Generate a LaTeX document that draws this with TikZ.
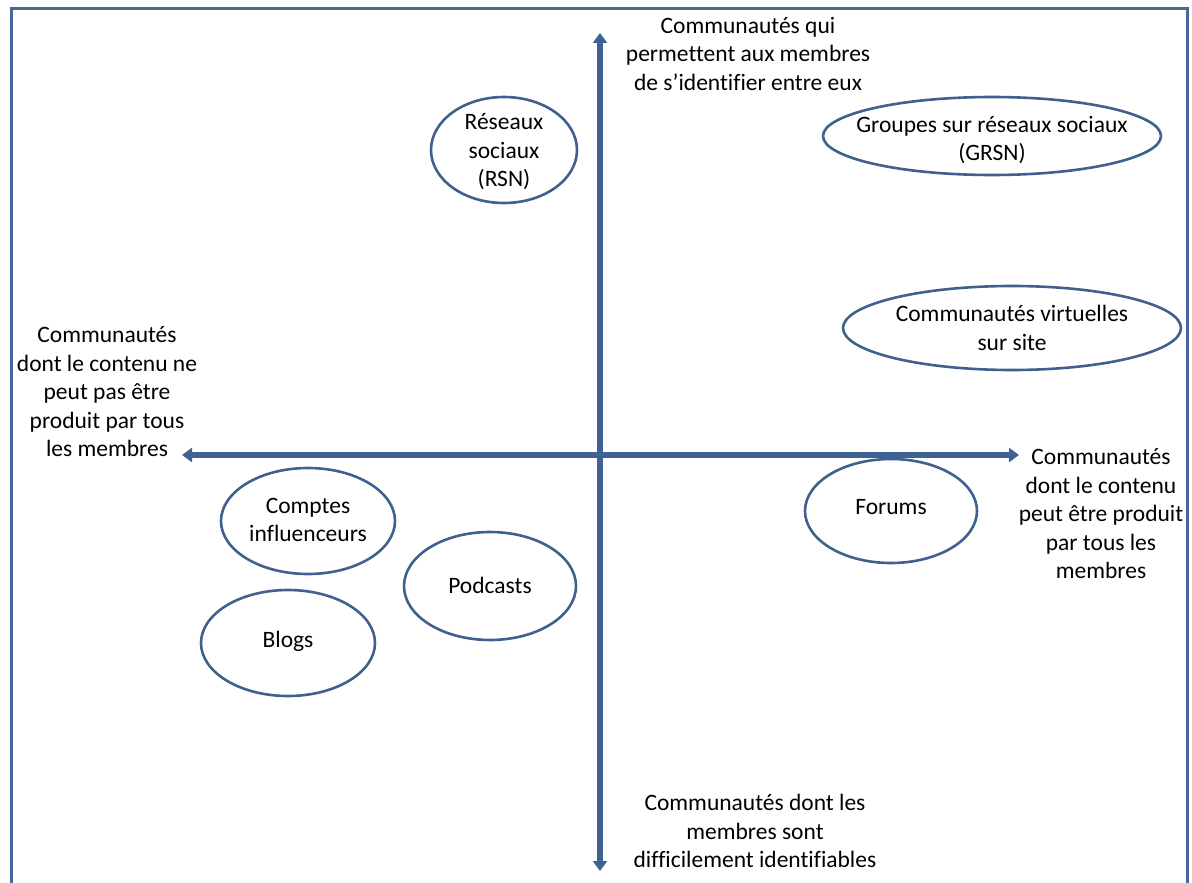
\documentclass[tikz,border=0pt]{standalone}
\usepackage{fontspec}
\setmainfont{Carlito}[Ligatures=NoCommon]
\usetikzlibrary{shapes.geometric,arrows.meta}
\definecolor{axisblue}{RGB}{62,98,148}
\definecolor{ringblue}{RGB}{64,96,142}
\definecolor{frameblue}{RGB}{72,104,152}
\begin{document}
\begin{tikzpicture}[x=1pt,y=-1pt,
	frame/.style={draw=frameblue,line width=3pt},
	axis/.style={draw=axisblue,line width=5.5pt,{Triangle[width=14pt,length=10pt]}-{Triangle[width=14pt,length=10pt]}},
	ring/.style={ellipse,draw=ringblue,line width=2.6pt,inner sep=0pt},
	caption/.style={align=center,inner sep=0pt,font=\fontsize{23.5}{28.5}\selectfont}]
	\useasboundingbox (0,0) rectangle (1192,883);
	\draw[frame] (11,895) -- (11,9) -- (1187,9) -- (1187,895);
	\coordinate (north) at (600,33);
	\coordinate (south) at (600,871);
	\coordinate (west) at (182,455);
	\coordinate (east) at (1019,455);
	\draw[axis] (south) -- (north);
	\draw[axis] (west) -- (east);
	\node[caption] (identified) at (748,54) {Communautés qui\\permettent aux membres\\de s’identifier entre eux};
	\node[caption] (closed) at (107,392) {Communautés\\dont le contenu ne\\peut pas être\\produit par tous\\les membres};
	\node[caption] (open) at (1101,514) {Communautés\\dont le contenu\\peut être produit\\par tous les\\membres};
	\node[caption] (anonymous) at (755,831) {Communautés dont les\\membres sont\\difficilement identifiables};
	\node[ring,minimum width=146pt,minimum height=106pt] (rsn) at (504,150) {};
	\node[ring,minimum width=338pt,minimum height=78pt] (grsn) at (992,136) {};
	\node[ring,minimum width=338pt,minimum height=84pt] (site) at (1012,328) {};
	\node[ring,minimum width=172pt,minimum height=104pt] (forums) at (891,511) {};
	\node[ring,minimum width=174pt,minimum height=106pt] (influence) at (308,521) {};
	\node[ring,minimum width=172pt,minimum height=108pt] (podcasts) at (490,586) {};
	\node[ring,minimum width=174pt,minimum height=106pt] (blogs) at (288,643) {};
	\node[caption] (rsntext) at ([yshift=-2pt]rsn) {Réseaux\\sociaux\\(RSN)};
	\node[caption] (grsntext) at ([yshift=-4pt]grsn) {Groupes sur réseaux sociaux\\(GRSN)};
	\node[caption] (sitetext) at (site) {Communautés virtuelles\\sur site};
	\node[caption] (forumstext) at ([yshift=4pt]forums) {Forums};
	\node[caption] (influencetext) at ([yshift=1pt]influence) {Comptes\\influenceurs};
	\node[caption] (podcaststext) at ([yshift=1pt]podcasts) {Podcasts};
	\node[caption] (blogstext) at ([yshift=2pt]blogs) {Blogs};
\end{tikzpicture}
\end{document}
